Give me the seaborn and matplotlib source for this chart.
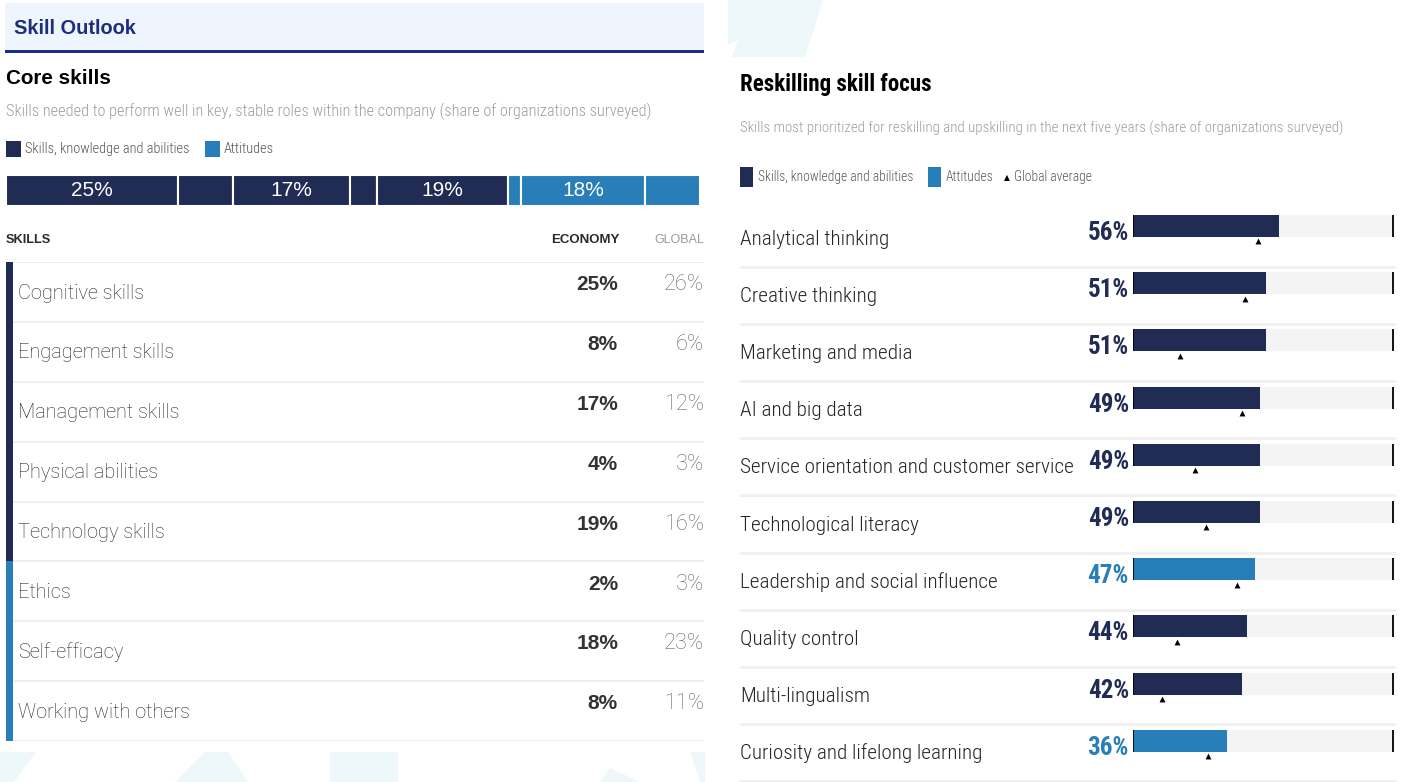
import numpy as np
import pandas as pd
import matplotlib
matplotlib.use("Agg")
import matplotlib.pyplot as plt
import matplotlib.patches as patches
import matplotlib.transforms as mtransforms
from matplotlib import font_manager
import seaborn as sns

# ---- data ----
core_skills = ["Cognitive skills", "Engagement skills", "Management skills", "Physical abilities",
               "Technology skills", "Ethics", "Self-efficacy", "Working with others"]
core_type = ["Skills", "Skills", "Skills", "Skills", "Skills", "Attitudes", "Attitudes", "Attitudes"]
core_economy = [25, 8, 17, 4, 19, 2, 18, 8]
core_global = [26, 6, 12, 3, 16, 3, 23, 11]

reskill_skills = ["Analytical thinking", "Creative thinking", "Marketing and media", "AI and big data",
                  "Service orientation and customer service", "Technological literacy",
                  "Leadership and social influence", "Quality control", "Multi-lingualism",
                  "Curiosity and lifelong learning"]
reskill_type = ["Skills", "Skills", "Skills", "Skills", "Skills", "Skills", "Attitudes", "Skills", "Skills", "Attitudes"]
reskill_value = [56, 51, 51, 49, 49, 49, 47, 44, 42, 36]
reskill_global = [48, 43, 18, 42, 24, 28, 40, 17, 11, 29]

NAVY = "#212C55"
BLUE = "#287EB8"
palette = {"Skills": NAVY, "Attitudes": BLUE}

sns.set_theme(style="white")
ttf = font_manager.fontManager.ttflist
fonts = [(f.name, f.stretch) for f in ttf]
names = {f[0] for f in fonts}
REG = "Liberation Sans" if "Liberation Sans" in names else "DejaVu Sans"
COND, STRETCH = "Roboto", "normal"
for fam, st in [("Liberation Sans Narrow", "normal"), ("Roboto Condensed", "normal"),
                ("DejaVu Sans", "condensed"), ("DejaVu Sans", "semi-condensed")]:
    if (st == "normal" and fam in names) or (fam, st) in fonts:
        COND, STRETCH = fam, st
        break
CKW = dict(family=COND, fontstretch=STRETCH)
# thin face for the table rows, if a light weight is installed
LIGHT = REG
for fam in ["Roboto", "Lato", "Open Sans", "Inter"]:
    if any(f.name == fam and f.weight in (300, "light") for f in ttf):
        LIGHT = fam
        break
plt.rcParams["font.family"] = [REG, "DejaVu Sans"]

W, H = 1409, 782
fig = plt.figure(figsize=(W / 100, H / 100), dpi=100)
fig.patch.set_facecolor("white")
renderer = fig.canvas.get_renderer()


def fx(x):
    return x / W


def fy(y):
    return 1 - y / H


def ftext(x, y, s, **kw):
    return fig.text(fx(x), fy(y), s, **kw)


def fit(t, width_px):
    w = t.get_window_extent(renderer=renderer).width
    t.set_fontsize(t.get_fontsize() * width_px / w)
    return t.get_fontsize()


def probe_size(s, width_px, **kw):
    t = ftext(0, 0, s, fontsize=12, **kw)
    size = fit(t, width_px)
    t.remove()
    return size


def frect(x0, y0, x1, y1, color, **kw):
    fig.patches.append(patches.Rectangle((fx(x0), fy(y1)), fx(x1) - fx(x0), fy(y0) - fy(y1),
                                         transform=fig.transFigure, color=color, lw=0, **kw))


def fpoly(pts, color):
    fig.patches.append(patches.Polygon([(fx(a), fy(b)) for a, b in pts], closed=True,
                                       transform=fig.transFigure, color=color, lw=0, zorder=0))


# faint background decorations
deco = "#EEF7F9"
fpoly([(0, 752), (36, 752), (14, 782), (0, 782)], deco)
fpoly([(205, 752), (228, 752), (248, 782), (175, 782)], deco)
fpoly([(330, 752), (398, 752), (398, 782), (330, 782)], deco)
fpoly([(600, 782), (640, 782), (610, 768)], deco)
fpoly([(690, 752), (705, 752), (705, 782), (700, 782)], deco)
fpoly([(728, 0), (823, 0), (805, 57), (732, 57), (738, 40), (728, 44)], deco)

# ---------------- left panel ----------------
frect(5, 3, 704, 50, "#EEF5FC")
frect(5, 50, 704, 53, "#1B2D8A")
fit(ftext(14, 28, "Skill Outlook", fontsize=14, fontweight="bold", color="#1E2D7D", va="center"), 122)
fit(ftext(6, 78, "Core skills", fontsize=15, fontweight="bold", color="black", va="center"), 105)
fit(ftext(6, 111, "Skills needed to perform well in key, stable roles within the company (share of organizations surveyed)",
          fontsize=11, color="#9E9E9E", va="center", fontweight="light", **CKW), 644)
frect(6, 141, 21, 157, NAVY)
fs_leg = fit(ftext(25, 149, "Skills, knowledge and abilities", fontsize=10, color="#555555", va="center",
                   fontweight="light", **CKW), 165)
frect(205, 141, 220, 157, BLUE)
ftext(224, 149, "Attitudes", fontsize=fs_leg, color="#555555", va="center", fontweight="light", **CKW)

# stacked bar
ax_st = fig.add_axes([fx(6), fy(206), fx(700) - fx(6), fy(175) - fy(206)])
left = 0
for v, t in zip(core_economy, core_type):
    ax_st.barh(0, v, left=left, height=1, color=palette[t], edgecolor="white", linewidth=1.5)
    if v >= 17:
        ax_st.text(left + v / 2, 0, f"{v}%", color="white", fontsize=15, ha="center", va="center")
    left += v
ax_st.set_xlim(0, sum(core_economy))
ax_st.set_ylim(-0.5, 0.5)
ax_st.axis("off")

# table header
ftext(6, 240, "SKILLS", fontsize=9.2, fontweight="bold", color="#2A2A2A", va="center")
ftext(619, 240, "ECONOMY", fontsize=9.5, fontweight="bold", color="#2A2A2A", va="center", ha="right")
ftext(704, 240, "GLOBAL", fontsize=9, color="#9A9A9A", va="center", ha="right")

# table rows
ax_tb = fig.add_axes([fx(6), fy(741), fx(704) - fx(6), fy(262) - fy(741)])
n = len(core_skills)
ax_tb.set_xlim(0, 698)
ax_tb.set_ylim(n, 0)
ax_tb.axis("off")
fs_row = probe_size("Working with others", 172, family=LIGHT, fontweight="light")
fs_glob = probe_size("26%", 40, family=LIGHT, fontweight="light")
for i in range(n + 1):
    ax_tb.axhline(i, color="#EFEFEF", lw=1.5, zorder=1)
for i, (name, t, e, g) in enumerate(zip(core_skills, core_type, core_economy, core_global)):
    ax_tb.add_patch(patches.Rectangle((0, i), 7, 1, color=palette[t], lw=0, zorder=2))
    ax_tb.text(12, i + 0.61, name, fontsize=fs_row, color="#262626", va="baseline",
               family=LIGHT, fontweight="light")
    ax_tb.text(612, i + 0.47, f"{e}%", fontsize=15, fontweight="bold", color="#333333", ha="right", va="baseline")
    ax_tb.text(698, i + 0.47, f"{g}%", fontsize=fs_glob, color="#666666", ha="right", va="baseline",
               family=LIGHT, fontweight="light")

# ---------------- right panel ----------------
fit(ftext(740, 85, "Reskilling skill focus", fontsize=17, fontweight="bold", color="black", va="center", **CKW), 192)
fit(ftext(740, 128, "Skills most prioritized for reskilling and upskilling in the next five years (share of organizations surveyed)",
          fontsize=10.8, color="#9E9E9E", va="center", fontweight="light", **CKW), 606)
frect(740, 167, 753, 187, NAVY)
fs_leg2 = fit(ftext(758, 177, "Skills, knowledge and abilities", fontsize=10.8, color="#555555", va="center",
                    fontweight="light", **CKW), 155)
frect(928, 167, 941, 187, BLUE)
ftext(946, 177, "Attitudes", fontsize=fs_leg2, color="#555555", va="center", fontweight="light", **CKW)
ftext(1004, 178, "\u25B2", fontsize=5.5, color="black", va="center", family="DejaVu Sans")
ftext(1014, 177, "Global average", fontsize=fs_leg2, color="#555555", va="center", fontweight="light", **CKW)

df = pd.DataFrame({"skill": reskill_skills, "type": reskill_type,
                   "value": reskill_value, "global": reskill_global})
m = len(df)
row_h = 57.2
top = 226 - row_h / 2
ax_r = fig.add_axes([fx(1133), fy(top + row_h * m), fx(1393) - fx(1133), fy(top) - fy(top + row_h * m)])
bw = 22 / row_h
sns.barplot(x=[100] * m, y=df["skill"], order=reskill_skills, color="#F4F4F4", width=bw,
            saturation=1, linewidth=0, ax=ax_r)
sns.barplot(data=df, x="value", y="skill", hue="type", order=reskill_skills, palette=palette,
            dodge=False, width=bw, saturation=1, linewidth=0, legend=False, ax=ax_r)
idx = np.arange(m)
ax_r.vlines(np.zeros(m), idx - bw / 2, idx + bw / 2, color="black", lw=1.3, zorder=4)
ax_r.vlines(np.full(m, 100), idx - bw / 2, idx + bw / 2, color="black", lw=1.3, zorder=4, clip_on=False)
ax_r.scatter(df["global"], idx + 0.27, marker="^", s=18, color="black", zorder=5, clip_on=False, linewidths=0)
ax_r.set_xlim(0, 100)
ax_r.set_ylim(m - 0.5, -0.5)
ax_r.axis("off")

blend = mtransforms.blended_transform_factory(fig.transFigure, ax_r.transData)
# font sizes fitted to the reference widths of the longest label and of "56%"
fs_lab = probe_size(reskill_skills[4], 334, fontweight="light", **CKW)
fs_val = probe_size("56%", 41, fontweight="bold", **CKW)
for i, row in df.iterrows():
    ax_r.text(fx(740), i + (11 + fs_lab / 2) / row_h, row["skill"], transform=blend, fontsize=fs_lab,
              color="#262626", va="baseline", clip_on=False, fontweight="light", **CKW)
    ax_r.text(fx(1129), i + (5 + fs_val / 2) / row_h, f"{row['value']}%", transform=blend, fontsize=fs_val,
              fontweight="bold", color=palette[row["type"]], ha="right", va="baseline", clip_on=False, **CKW)
    ax_r.plot([fx(740), fx(1395)], [i + 0.71, i + 0.71], transform=blend, color="#F0F0F0",
              lw=2, clip_on=False, zorder=0)

fig.savefig("out.png", dpi=100, facecolor="white")
